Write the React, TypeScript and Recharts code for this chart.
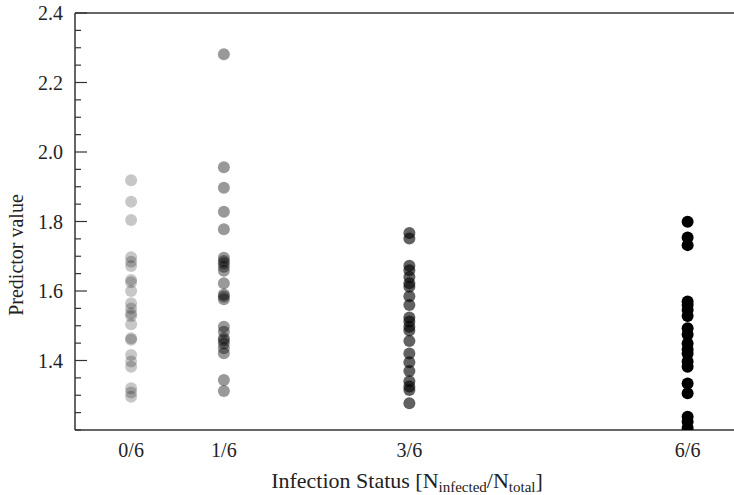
import React from 'react';
import { ScatterChart, Scatter, XAxis, YAxis, ReferenceLine } from 'recharts';

// category labels and where they sit on the numeric x axis
const categories = ['0/6', '1/6', '3/6', '6/6'];
const categoryPositions = [0, 1, 3, 6];

// predictor values per infection group
const values0of6 = [1.919, 1.857, 1.804, 1.697, 1.684, 1.672, 1.632, 1.625, 1.6, 1.565, 1.55, 1.536, 1.528, 1.504, 1.464, 1.46, 1.416, 1.397, 1.382, 1.32, 1.308, 1.296];
const values1of6 = [2.281, 1.956, 1.897, 1.828, 1.778, 1.696, 1.686, 1.68, 1.67, 1.658, 1.622, 1.59, 1.584, 1.576, 1.497, 1.483, 1.464, 1.458, 1.449, 1.435, 1.421, 1.344, 1.312];
const values3of6 = [1.767, 1.751, 1.673, 1.66, 1.64, 1.622, 1.612, 1.585, 1.56, 1.524, 1.512, 1.497, 1.486, 1.456, 1.42, 1.395, 1.37, 1.34, 1.325, 1.315, 1.277];
const values6of6 = [1.799, 1.754, 1.732, 1.57, 1.56, 1.545, 1.528, 1.493, 1.475, 1.449, 1.432, 1.42, 1.397, 1.382, 1.334, 1.306, 1.238, 1.224, 1.206];

const yTicks = [1.2, 1.25, 1.3, 1.35, 1.4, 1.45, 1.5, 1.55, 1.6, 1.65, 1.7, 1.75, 1.8, 1.85, 1.9, 1.95, 2.0, 2.05, 2.1, 2.15, 2.2, 2.25, 2.3, 2.35, 2.4];

const groups = [values0of6, values1of6, values3of6, values6of6];
const groupOpacity = [0.22, 0.4, 0.62, 1];

const FONT = '"Liberation Serif", "Times New Roman", serif';
const INK = '#222';

const isMajor = (v: number) => v > 1.21 && Math.abs(v * 5 - Math.round(v * 5)) < 1e-6;

const YTick = (props: any) => {
  const { x, y, payload } = props;
  const major = isMajor(payload.value);
  return (
    <g>
      <line x1={x} x2={x + (major ? 12 : 6)} y1={y} y2={y} stroke="#333" strokeWidth={1.2} />
      {major && (
        <text x={x - 12} y={y + 7} textAnchor="end" fontSize={20} fontFamily={FONT} fill={INK}>
          {payload.value.toFixed(1)}
        </text>
      )}
    </g>
  );
};

const XTick = (props: any) => {
  const { x, y, payload } = props;
  const idx = categoryPositions.indexOf(payload.value);
  return (
    <text x={x} y={y + 27} textAnchor="middle" fontSize={20} fontFamily={FONT} fill={INK}>
      {categories[idx]}
    </text>
  );
};

const Dot = (opacity: number) => (props: any) => (
  <circle cx={props.cx} cy={props.cy} r={6} fill="#000" fillOpacity={opacity} />
);

export default function App() {
  return (
    <div style={{ position: 'absolute', left: 0, top: 0, background: '#fff' }}>
      <ScatterChart width={734} height={495} margin={{ top: 13, right: 0, bottom: 0, left: 0 }}>
        <XAxis
          type="number"
          dataKey="x"
          domain={[-0.605, 6.5]}
          allowDataOverflow
          ticks={categoryPositions}
          interval={0}
          tickLine={false}
          tickSize={0}
          tickMargin={0}
          tick={<XTick />}
          height={65}
          axisLine={{ stroke: '#333', strokeWidth: 1.5 }}
          label={{
            content: () => (
              <text x={407} y={488} textAnchor="middle" fontSize={22} fontFamily={FONT} fill={INK}>
                Infection Status [N
                <tspan fontSize={15} dy={4}>infected</tspan>
                <tspan dy={-4}>/N</tspan>
                <tspan fontSize={15} dy={4}>total</tspan>
                <tspan dy={-4}>]</tspan>
              </text>
            ),
          }}
        />
        <YAxis
          type="number"
          dataKey="y"
          domain={[1.2, 2.4]}
          allowDataOverflow
          ticks={yTicks}
          interval={0}
          tickLine={false}
          tickSize={0}
          tickMargin={0}
          tick={<YTick />}
          width={75}
          axisLine={{ stroke: '#333', strokeWidth: 1.5 }}
          label={{
            content: () => (
              <text
                x={23}
                y={255}
                transform="rotate(-90 23 255)"
                textAnchor="middle"
                fontSize={20}
                fontFamily={FONT}
                fill={INK}
              >
                Predictor value
              </text>
            ),
          }}
        />
        <ReferenceLine y={2.4} stroke="#333" strokeWidth={1.5} />
        {groups.map((vals, i) => (
          <Scatter
            key={categories[i]}
            data={vals.map((v) => ({ x: categoryPositions[i], y: v }))}
            shape={Dot(groupOpacity[i])}
            isAnimationActive={false}
          />
        ))}
      </ScatterChart>
    </div>
  );
}
